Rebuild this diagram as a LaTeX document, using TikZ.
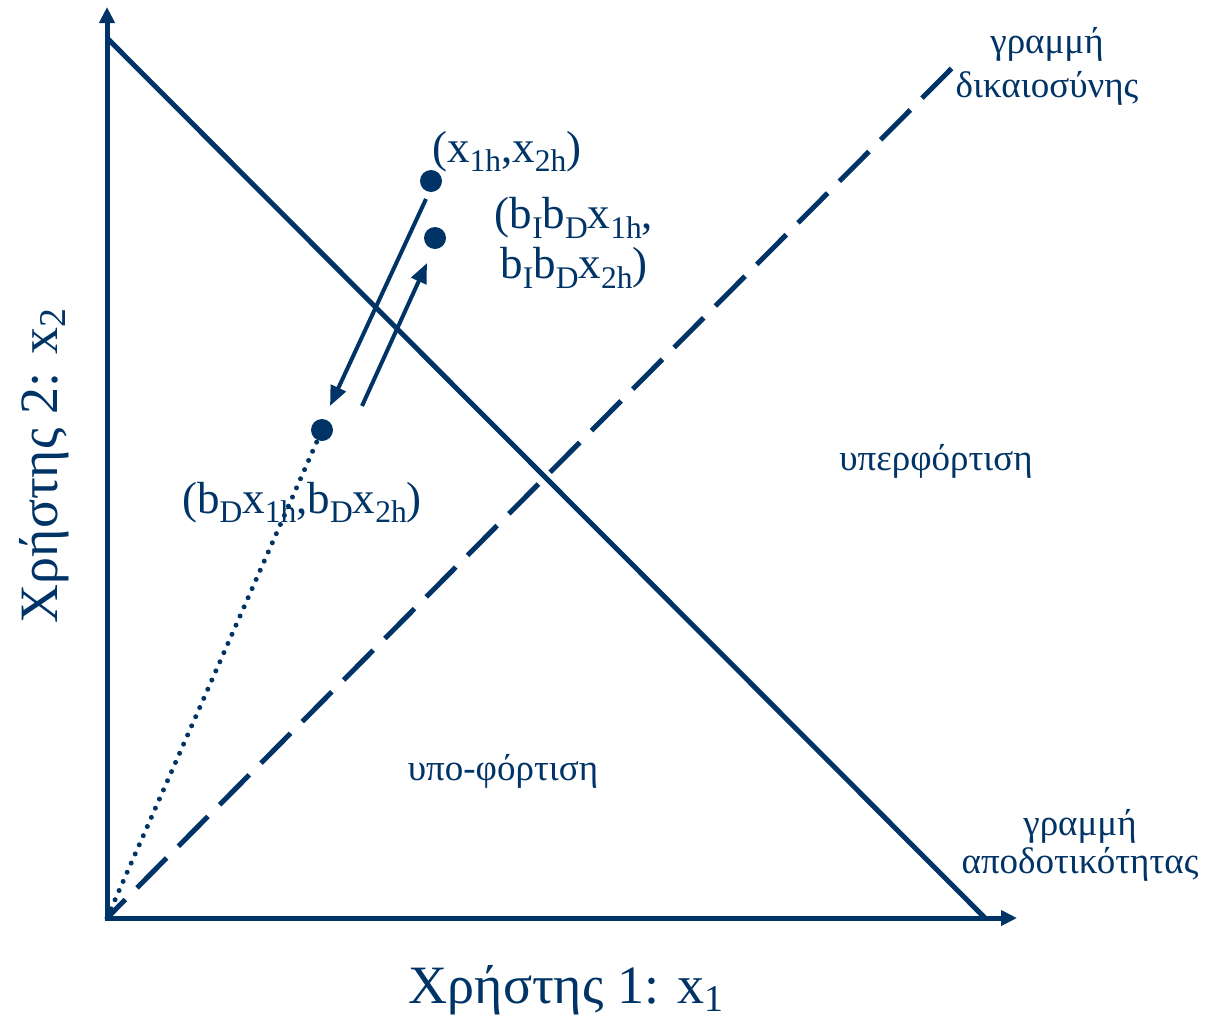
\documentclass[tikz,border=0pt]{standalone}
\usepackage{fontspec}
\setmainfont{Liberation Serif}
\usetikzlibrary{arrows.meta}
\definecolor{navy}{RGB}{0,51,102}
\newcommand\lowix[1]{\raisebox{-0.22em}{\scalebox{0.7}{#1}}}
\newcommand\axlowix[1]{\raisebox{-0.16em}{\scalebox{0.7}{#1}}}
\begin{document}
\begin{tikzpicture}[x=1pt,y=-1pt,
  every node/.style={text=navy, inner sep=0pt},
  axis/.style={draw=navy, line width=5pt, {Triangle[length=16pt,width=15pt]}-{Triangle[length=16pt,width=15pt]}},
  effline/.style={draw=navy, line width=5pt},
  fair/.style={draw=navy, line width=5pt, dash pattern=on 42pt off 16.6pt, dash phase=16pt},
  ray/.style={draw=navy, line width=5pt, line cap=round, dash pattern=on 0pt off 10pt},
  move/.style={draw=navy, line width=4pt, -{Triangle[length=20pt,width=16pt]}},
  dot/.style={circle, fill=navy, minimum size=22pt, inner sep=0pt},
  axlabel/.style={font=\fontsize{54}{60}\selectfont},
  ptlabel/.style={font=\fontsize{45}{50}\selectfont, align=center},
  note/.style={font=\fontsize{37}{42}\selectfont, align=center}]
\useasboundingbox (0,0) rectangle (1205,1023);
% coordinates
\coordinate (O) at (107,918);
\coordinate (Ytop) at (107,7);
\coordinate (Xend) at (1017,918);
\coordinate (E1) at (107,38);
\coordinate (E2) at (985,918);
\coordinate (F) at (952,68);
% lines
\draw[effline] (E1) -- (E2);
\draw[fair] (O) -- (F);
\draw[axis] (Ytop) -- (O) -- (Xend);
% points
\node[dot] (h) at (431,181) {};
\node[dot] (s) at (435,238) {};
\node[dot] (d) at (322,430) {};
\draw[ray] (O) -- (d);
\coordinate (a1s) at (426,199);
\coordinate (a1e) at (330,406);
\coordinate (a2s) at (362,406);
\coordinate (a2e) at (427,263);
\draw[move] (a1s) -- (a1e);
\draw[move] (a2s) -- (a2e);
% labels
\node[ptlabel, anchor=base west] (lh) at (432,162) {(x\lowix{1h},x\lowix{2h})};
\node[ptlabel] (ls) at (574,243) {(b\lowix{I}b\lowix{D}x\lowix{1h},\\b\lowix{I}b\lowix{D}x\lowix{2h})};
\node[ptlabel, anchor=base west] (ld) at (182,513) {(b\lowix{D}x\lowix{1h},b\lowix{D}x\lowix{2h})};
\node[note, anchor=base] (lf1) at (1047,53) {γραμμή};
\node[note, anchor=base] (lf2) at (1047,97) {δικαιοσύνης};
\node[note, anchor=base] (le1) at (1080,835) {γραμμή};
\node[note, anchor=base] (le2) at (1080,873) {αποδοτικότητας};
\node[note, anchor=base] (over) at (936,470) {υπερφόρτιση};
\node[note, anchor=base] (under) at (503,780) {υπο-φόρτιση};
\node[axlabel, anchor=base] (xl) at (566,1003) {Χρήστης 1: x\axlowix{1}};
\node[axlabel, anchor=base, rotate=90] (yl) at (57,466) {Χρήστης 2: x\axlowix{2}};
\end{tikzpicture}
\end{document}
